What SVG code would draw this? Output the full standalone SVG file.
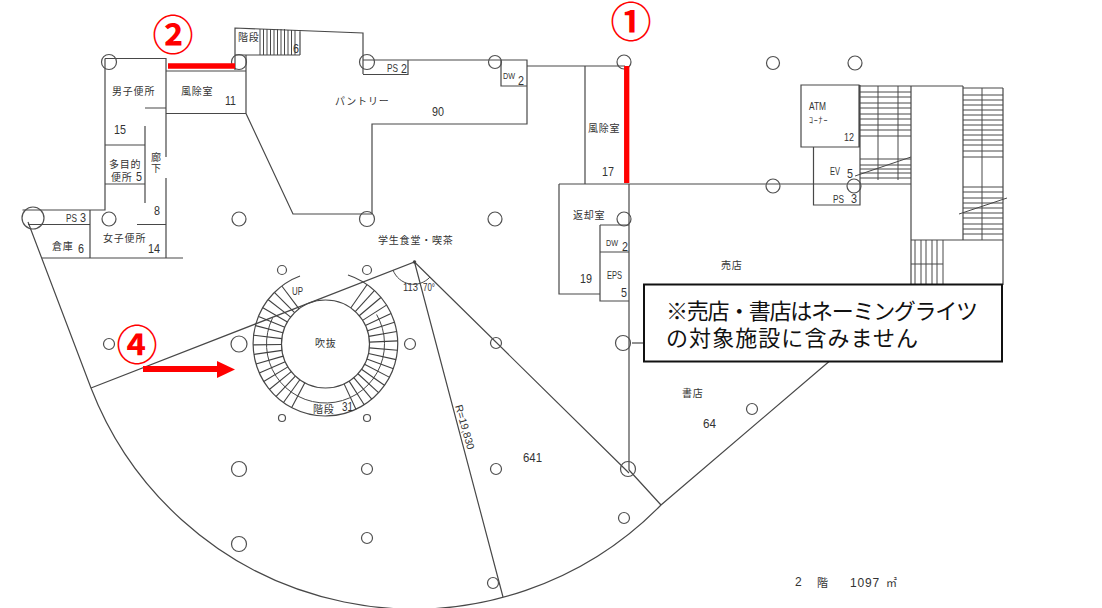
<svg xmlns="http://www.w3.org/2000/svg" width="1102" height="608" viewBox="0 0 1102 608">
<style>
.w{fill:none;stroke:#484848;stroke-width:1.2}
.t{fill:none;stroke:#484848;stroke-width:1}
.c{fill:none;stroke:#505050;stroke-width:1.2}
.l{font-family:"Liberation Sans","Noto Sans CJK JP",sans-serif;font-size:10px;letter-spacing:.8px;fill:#333}
.n{font-family:"Liberation Sans",sans-serif;font-size:13.5px;fill:#333}
.s{font-family:"Liberation Sans",sans-serif;font-size:10.5px;fill:#333}
.r{fill:none;stroke:#f00;stroke-width:5.300}
.o{font-family:"Liberation Sans","Noto Sans CJK JP",sans-serif;font-size:41px;font-weight:700;fill:#f00;text-anchor:middle}
.m{font-family:"Liberation Sans","Noto Sans CJK JP",sans-serif;font-size:22px;fill:#111}
</style>
<defs><path id="tread" d="M369.5 344H397.800" stroke="#404040" stroke-width="1.100"/></defs>
<rect width="1102" height="608" fill="#fff"/>
<g id="walls" class="w">
<path d="M105 58.500H166V157M166 178V258M42 258H183M105 58.500V210H22.500M28 224.500H90M90 210V258M145 108H166M145 126V203M105 145H145M105 184H145M137 224.500H166"/>
<path d="M166 71H246M246 55V113.500H166M246 113.500L293 214H372"/>
<path d="M235 70V28L363 33V74M235 55H246M246 55H300M300 30V55"/>
<path d="M363 60H527V124H372V214"/>
<path d="M363 74.500H408V60M501 60V86H527M527 66H625M585 66V184"/>
<path d="M559 184H911M559 184V294H600M600 225V301H629M600 225H629M600 252H629M629 184V470"/>
<path d="M632 343H644"/>
</g>
<g id="stair-top" class="t" stroke-width=".8">
<path d="M260 29V55M263.500 29V55M267 29V55M270.500 29V55M274 29V55M277.500 29V55M281 29V55M284.500 29V55M288 30V55M291.500 30V55M295 30V55"/>
</g>
<g id="stairs-right" class="t">
<path class="w" d="M801 85H859V147H801ZM813.500 147V205H860V85M859 86H963M911 86V284M963 86V240M911 240H1003M963 88H1003M1003 88V285"/>
<path d="M878 86V180M898 86V180M982 88V240"/>
<path d="M860 92H911M860 97H911M860 103H911M860 108H911M860 114H911M860 119H911M860 125H911M860 130H911M860 136H911M860 159H911M860 165H911M860 169H911M860 173H911M860 178H911M963 95H1003M963 100H1003M963 105H1003M963 110H1003M963 115H1003M963 120H1003M963 125H1003M963 130H1003M963 135H1003M963 140H1003M963 145H1003M963 151H1003M963 157H1003M963 187H1003M963 192H1003M963 198H1003M963 203H1003M963 208H1003M963 213H1003M963 218H1003M963 224H1003M963 229H1003M963 234H1003"/>
<path d="M915 240V284M921 240V284M926 240V284M932 240V284M937 240V284M943 240V284M911 264H943M855 176L911 157M959 214L1007 198"/>
</g>
<g id="outer" class="w">
<path d="M28 222L91 388A346 346 0 0 0 661 505L832 359"/>
<path d="M91 388L414.500 262L629 473M629 470L661 505M414.500 262L503 597"/>
<path class="t" d="M393 270A22 22 0 0 0 430 277"/>
<circle cx="414.500" cy="262" r="1.200" fill="#333"/>
</g>
<g id="stair-circle">
<path class="w" d="M300 276A72.300 72.300 0 1 0 348 275"/>
<circle cx="325.500" cy="344" r="44" class="w"/>
<path class="t" d="M272.500 318.100A59 59 0 1 0 376.600 314.500"/>
<use href="#tread" transform="rotate(-55 325.500 344)"/><use href="#tread" transform="rotate(-47.500 325.500 344)"/><use href="#tread" transform="rotate(-40 325.500 344)"/><use href="#tread" transform="rotate(-32.500 325.500 344)"/><use href="#tread" transform="rotate(-25 325.500 344)"/><use href="#tread" transform="rotate(-17.500 325.500 344)"/><use href="#tread" transform="rotate(-10 325.500 344)"/><use href="#tread" transform="rotate(-2.500 325.500 344)"/><use href="#tread" transform="rotate(5 325.500 344)"/><use href="#tread" transform="rotate(12.500 325.500 344)"/><use href="#tread" transform="rotate(20 325.500 344)"/><use href="#tread" transform="rotate(27.500 325.500 344)"/><use href="#tread" transform="rotate(35 325.500 344)"/><use href="#tread" transform="rotate(42.500 325.500 344)"/><use href="#tread" transform="rotate(50 325.500 344)"/><use href="#tread" transform="rotate(57.500 325.500 344)"/><use href="#tread" transform="rotate(65 325.500 344)"/>
<use href="#tread" transform="rotate(118 325.500 344)"/><use href="#tread" transform="rotate(125.700 325.500 344)"/><use href="#tread" transform="rotate(133.300 325.500 344)"/><use href="#tread" transform="rotate(141 325.500 344)"/><use href="#tread" transform="rotate(148.700 325.500 344)"/><use href="#tread" transform="rotate(156.300 325.500 344)"/><use href="#tread" transform="rotate(164 325.500 344)"/><use href="#tread" transform="rotate(171.700 325.500 344)"/><use href="#tread" transform="rotate(179.300 325.500 344)"/><use href="#tread" transform="rotate(187 325.500 344)"/><use href="#tread" transform="rotate(194.700 325.500 344)"/><use href="#tread" transform="rotate(202.300 325.500 344)"/><use href="#tread" transform="rotate(210 325.500 344)"/><use href="#tread" transform="rotate(217.700 325.500 344)"/><use href="#tread" transform="rotate(225.300 325.500 344)"/><use href="#tread" transform="rotate(233 325.500 344)"/>
</g>
<g id="columns">
<circle class="c" cx="109" cy="62" r="7.500"/><circle class="c" cx="239" cy="62" r="7.500"/><circle class="c" cx="367" cy="62" r="7.500"/><circle class="c" cx="495" cy="62" r="6.500"/><circle class="c" cx="624" cy="62" r="7"/><circle class="c" cx="773" cy="63" r="6.500"/><circle class="c" cx="855" cy="63" r="7"/>
<circle class="c" cx="33" cy="218" r="11"/><circle class="c" cx="109" cy="219" r="7"/><circle class="c" cx="239" cy="219" r="7"/><circle class="c" cx="367" cy="219" r="7.500"/><circle class="c" cx="495" cy="219" r="7"/><circle class="c" cx="624" cy="219" r="7"/>
<circle class="c" cx="773" cy="186" r="7"/><circle class="c" cx="854" cy="186" r="7"/>
<circle class="c" cx="282" cy="270" r="4.500"/><circle class="c" cx="367" cy="270" r="4.500"/>
<circle class="c" cx="109" cy="344" r="5.500"/><circle class="c" cx="239" cy="344" r="8"/><circle class="c" cx="410" cy="344" r="5.500"/><circle class="c" cx="496" cy="343" r="5.500"/><circle class="c" cx="623" cy="343" r="7.500"/><circle class="c" cx="752" cy="409" r="5.500"/>
<circle class="c" cx="282" cy="418" r="3.500"/><circle class="c" cx="367" cy="418" r="3.500"/>
<circle class="c" cx="239" cy="469" r="7.500"/><circle class="c" cx="367" cy="469" r="5.500"/><circle class="c" cx="496" cy="469" r="5.500"/><circle class="c" cx="628" cy="469" r="7.500"/>
<circle class="c" cx="239" cy="544" r="7.500"/><circle class="c" cx="367" cy="538" r="5.500"/><circle class="c" cx="624" cy="518" r="5.500"/><circle class="c" cx="493" cy="583" r="5.500"/>
</g>
<g id="highlights">
<path class="r" d="M168 66H235M626.700 66V183"/>
<path d="M143 369H218" stroke="#f00" stroke-width="6" fill="none"/>
<path d="M217 361L235 369.500L217 378Z" fill="#f00"/>
<text class="o" x="173" y="50">②</text>
<text class="o" x="631" y="37">①</text>
<text class="o" x="137" y="360">④</text>
</g>
<g id="note">
<rect x="644" y="284.500" width="358" height="77" fill="#fff" stroke="#111" stroke-width="2"/>
<text class="m" x="666" y="319" textLength="312">※売店・書店はネーミングライツ</text>
<text class="m" x="666" y="346" textLength="252">の対象施設に含みません</text>
</g>
<g id="labels">
<text class="l" x="112" y="95">男子便所</text><text class="l" x="181" y="95">風除室</text><text class="n" x="225" y="105" textLength="11" lengthAdjust="spacingAndGlyphs">11</text><text class="n" x="114" y="134" textLength="12" lengthAdjust="spacingAndGlyphs">15</text>
<text class="l" x="109" y="168">多目的</text><text class="l" x="111" y="181">便所</text><text class="n" x="136" y="181" textLength="6" lengthAdjust="spacingAndGlyphs">5</text><text class="l" x="151" y="161">廊</text><text class="l" x="151" y="172">下</text><text class="n" x="154" y="215" textLength="6" lengthAdjust="spacingAndGlyphs">8</text>
<text class="l" x="103" y="242">女子便所</text><text class="n" x="148" y="253" textLength="12" lengthAdjust="spacingAndGlyphs">14</text><text class="s" x="66" y="222" textLength="11" lengthAdjust="spacingAndGlyphs">PS</text><text class="n" x="80" y="222" textLength="6" lengthAdjust="spacingAndGlyphs">3</text><text class="l" x="52" y="250">倉庫</text><text class="n" x="78" y="253" textLength="6" lengthAdjust="spacingAndGlyphs">6</text>
<text class="l" x="238" y="41">階段</text><text class="n" x="293" y="53" textLength="6" lengthAdjust="spacingAndGlyphs">6</text><text class="l" x="335" y="105">パントリー</text><text class="n" x="432" y="116" textLength="12" lengthAdjust="spacingAndGlyphs">90</text>
<text class="s" x="387" y="72" textLength="11" lengthAdjust="spacingAndGlyphs">PS</text><text class="n" x="401" y="73" textLength="6" lengthAdjust="spacingAndGlyphs">2</text><text class="s" x="503" y="79" style="font-size:8.500px" textLength="12" lengthAdjust="spacingAndGlyphs">DW</text><text class="n" x="518" y="85" textLength="6" lengthAdjust="spacingAndGlyphs">2</text><text class="l" x="588" y="132">風除室</text><text class="n" x="602" y="176" textLength="12" lengthAdjust="spacingAndGlyphs">17</text>
<text class="l" x="573" y="219">返却室</text><text class="n" x="580" y="283" textLength="12" lengthAdjust="spacingAndGlyphs">19</text><text class="s" x="606" y="246" style="font-size:8.500px" textLength="12" lengthAdjust="spacingAndGlyphs">DW</text><text class="n" x="622" y="251" textLength="6" lengthAdjust="spacingAndGlyphs">2</text><text class="s" x="607" y="279" textLength="15" lengthAdjust="spacingAndGlyphs">EPS</text><text class="n" x="621" y="297" textLength="6" lengthAdjust="spacingAndGlyphs">5</text>
<text class="l" x="378" y="244">学生食堂・喫茶</text><text class="l" x="721" y="269">売店</text><text class="l" x="682" y="397">書店</text><text class="n" x="703" y="428" textLength="13" lengthAdjust="spacingAndGlyphs">64</text><text class="n" x="523" y="462" textLength="19" lengthAdjust="spacingAndGlyphs">641</text>
<text class="l" x="315" y="347">吹抜</text><text class="l" x="313" y="413">階段</text><text class="n" x="342" y="411" textLength="11" lengthAdjust="spacingAndGlyphs">31</text><text class="s" x="292" y="295" textLength="11" lengthAdjust="spacingAndGlyphs">UP</text><text class="s" x="403" y="291" textLength="15" lengthAdjust="spacingAndGlyphs">113</text><text class="s" x="423" y="291" textLength="12" lengthAdjust="spacingAndGlyphs">70°</text>
<text class="s" transform="translate(455 406) rotate(74)" textLength="46" lengthAdjust="spacingAndGlyphs">R=19,830</text>
<text class="s" x="809" y="110" textLength="17" lengthAdjust="spacingAndGlyphs">ATM</text><text class="l" x="809" y="123" style="font-size:8px">ｺｰﾅｰ</text><text class="s" x="844" y="141" textLength="10" lengthAdjust="spacingAndGlyphs">12</text><text class="s" x="830" y="175" textLength="10" lengthAdjust="spacingAndGlyphs">EV</text><text class="n" x="847" y="178" textLength="6" lengthAdjust="spacingAndGlyphs">5</text><text class="s" x="833" y="203" textLength="11" lengthAdjust="spacingAndGlyphs">PS</text><text class="n" x="851" y="203" textLength="6" lengthAdjust="spacingAndGlyphs">3</text>
<text class="s" x="795" y="586" style="font-size:12px">2</text><text class="l" x="817" y="587" style="font-size:11px">階</text><text class="s" x="850" y="587" style="font-size:12px;letter-spacing:.8px">1097</text><text class="l" x="886" y="587" style="font-size:11px">㎡</text>
</g>
</svg>
